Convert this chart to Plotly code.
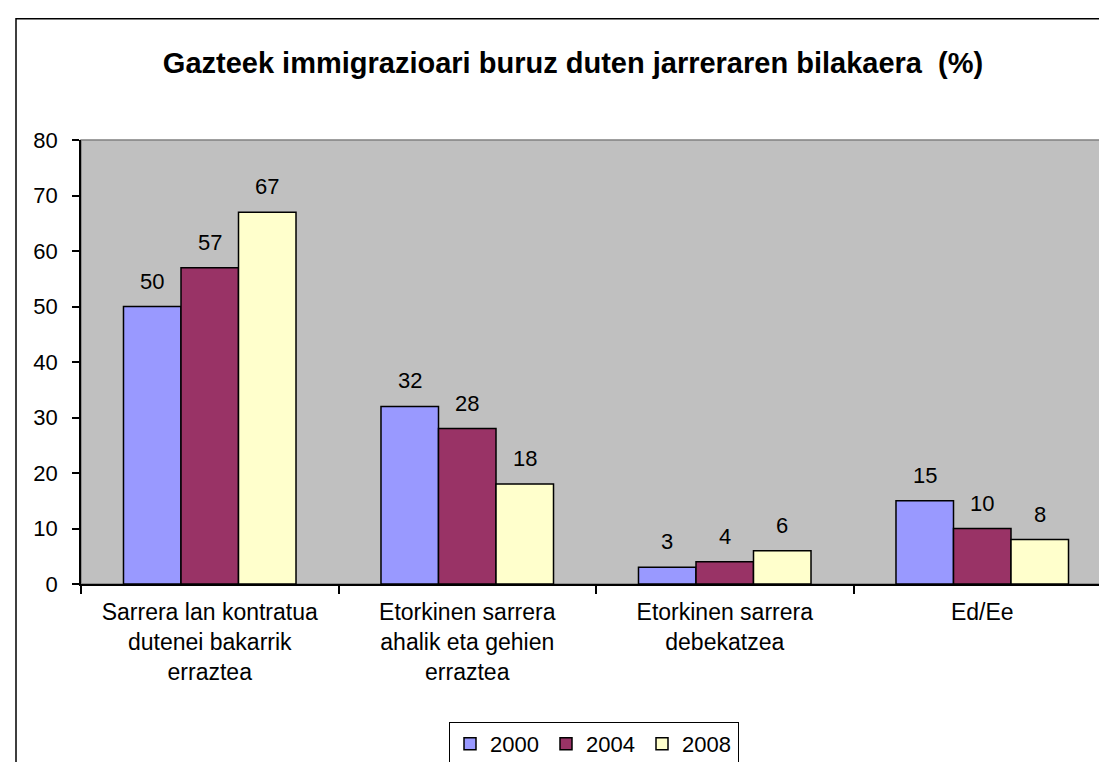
import plotly.graph_objects as go

categories = [
    "Sarrera lan kontratua<br>dutenei bakarrik<br>erraztea",
    "Etorkinen sarrera<br>ahalik eta gehien<br>erraztea",
    "Etorkinen sarrera<br>debekatzea",
    "Ed/Ee",
]
series_names = ["2000", "2004", "2008"]
values_2000 = [50, 32, 3, 15]
values_2004 = [57, 28, 4, 10]
values_2008 = [67, 18, 6, 8]
colors = ["#9999FF", "#993366", "#FFFFCC"]
title_text = "Gazteek immigrazioari buruz duten jarreraren bilakaera  (%)"

W, H = 1107, 762
ML, MR, MT, MB = 73, 4, 132, 183
BARGAP = 0.33
FONT = "Liberation Sans, Arial, sans-serif"

fig = go.Figure()
all_values = [values_2000, values_2004, values_2008]
for name, vals, col in zip(series_names, all_values, colors):
    fig.add_trace(go.Bar(
        x=categories, y=vals, name=name,
        marker=dict(color=col, line=dict(color="black", width=1.5)),
    ))

# data labels
plot_w = W - ML - MR
bar_px = plot_w / len(categories) * (1 - BARGAP) / len(series_names)
for i, vals in enumerate(all_values):
    off = (i - (len(series_names) - 1) / 2) * bar_px
    for c, v in zip(categories, vals):
        fig.add_annotation(x=c, y=v, text=str(v), showarrow=False,
                           xshift=off, yshift=11, yanchor="bottom",
                           font=dict(family=FONT, size=22, color="black"))

# outer chart border
fig.add_shape(type="rect", xref="paper", yref="paper",
              x0=(8 - ML) / plot_w, x1=1.2,
              y0=-1.0, y1=1 + (MT - 10) / (H - MT - MB),
              line=dict(color="black", width=1.5), layer="below")
# plot area border
fig.add_shape(type="rect", xref="paper", yref="paper",
              x0=0, x1=1, y0=0, y1=1,
              line=dict(color="#808080", width=1.5), layer="below")

fig.update_layout(
    width=W, height=H,
    margin=dict(l=ML, r=MR, t=MT, b=MB, pad=0),
    paper_bgcolor="white", plot_bgcolor="#C0C0C0",
    barmode="group", bargap=BARGAP, bargroupgap=0,
    font=dict(family=FONT, size=22, color="black"),
    title=dict(text="<b>" + title_text + "</b>", x=565 / W, xanchor="center",
               y=1 - 55 / H, yanchor="middle",
               font=dict(family=FONT, size=29, color="black")),
    showlegend=True,
    legend=dict(orientation="h", x=(586 - ML) / plot_w, xanchor="center",
                y=-(718 - (H - MB)) / (H - MT - MB), yanchor="top",
                bordercolor="black", borderwidth=1, bgcolor="white",
                font=dict(family=FONT, size=22, color="black"),
                itemwidth=30, tracegroupgap=0,
                entrywidth=51, entrywidthmode="pixels"),
)
fig.update_xaxes(type="category", showline=True, linecolor="black", linewidth=1.5,
                 ticks="outside", tickson="boundaries", ticklen=8, tickcolor="black",
                 tickwidth=1.5, showgrid=False, ticklabelstandoff=7,
                 tickfont=dict(family=FONT, size=23, color="black"))
fig.update_yaxes(range=[0, 80], dtick=10, showline=True, linecolor="black", linewidth=1.5,
                 ticks="outside", ticklen=7, tickcolor="black", tickwidth=1.5,
                 showgrid=False, zeroline=False, ticklabelstandoff=10,
                 tickfont=dict(family=FONT, size=22, color="black"))

fig.write_html("out.html")
